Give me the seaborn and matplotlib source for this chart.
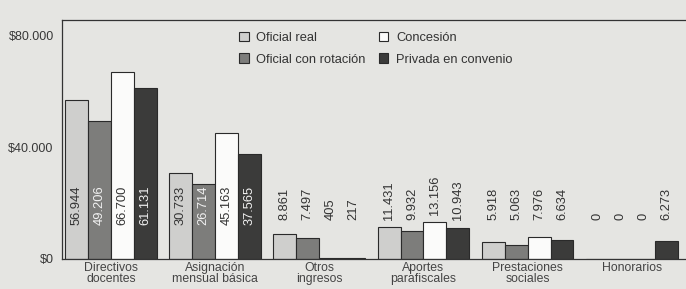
import pandas as pd
import matplotlib.pyplot as plt
import seaborn as sns

# categories and series
categories = ["Directivos\ndocentes", "Asignación\nmensual básica", "Otros\ningresos",
              "Aportes\nparafiscales", "Prestaciones\nsociales", "Honorarios"]
series = ["Oficial real", "Oficial con rotación", "Concesión", "Privada en convenio"]
oficial_real = [56944, 30733, 8861, 11431, 5918, 0]
oficial_rotacion = [49206, 26714, 7497, 9932, 5063, 0]
concesion = [66700, 45163, 405, 13156, 7976, 0]
privada = [61131, 37565, 217, 10943, 6634, 6273]
y_ticks = [0, 40000, 80000]
y_tick_labels = ["$0", "$40.000", "$80.000"]

colors = ["#cfcfcd", "#7d7d7b", "#fbfbfa", "#3b3b3a"]
text_colors = ["#333333", "#f2f2f2", "#333333", "#f2f2f2"]
bg = "#e5e5e2"

#long table for seaborn
rows = []
for name, vals in zip(series, [oficial_real, oficial_rotacion, concesion, privada]):
    for cat, v in zip(categories, vals):
        rows.append({"categoria": cat, "serie": name, "valor": v})
df = pd.DataFrame(rows)

sns.set_theme(style="white")
plt.rcParams['font.family'] = ['Liberation Sans', 'DejaVu Sans']

fig = plt.figure(figsize=(6.86, 2.89), dpi=100, facecolor=bg)
ax = fig.add_axes([0.0904, 0.104, 0.9096, 0.827], facecolor=bg)

sns.barplot(data=df, x="categoria", y="valor", hue="serie", order=categories,
            hue_order=series, palette=colors, width=0.88, gap=0,
            edgecolor="#2a2a2a", linewidth=0.8, ax=ax)

# value labels, rotated: inside the tall bars, just above the short ones
for i, cont in enumerate(ax.containers):
    for bar in cont:
        h = bar.get_height()
        inside = h > 20000
        base = 12000 if inside else max(14000, h + 2500)
        txt = f"{int(h):,}".replace(",", ".")
        ax.text(bar.get_x() + bar.get_width() / 2, base, txt, rotation=90,
                ha="center", va="bottom", fontsize=9.3,
                color=text_colors[i] if inside else "#333333")

ax.set_xlim(-0.47, 5.52)
ax.set_ylim(0, 85500)
ax.set_yticks(y_ticks)
ax.set_yticklabels(y_tick_labels, fontsize=9, color="#383838")
ax.set_xticks(range(len(categories)))
ax.set_xticklabels(categories, fontsize=8.8, color="#444444", linespacing=0.95)
ax.tick_params(axis="y", length=3, width=0.8, color="#444444", pad=3)
ax.tick_params(axis="x", length=0, pad=2)
ax.set_xlabel("")
ax.set_ylabel("")
for s in ["left", "bottom", "top"]:
    ax.spines[s].set_color("#333333")
    ax.spines[s].set_linewidth(0.9)
ax.spines["right"].set_visible(False)

leg = ax.legend(ncol=2, loc="upper left", bbox_to_anchor=(0.265, 1.0), frameon=False,
                fontsize=9.3, handlelength=0.75, handleheight=0.75, handletextpad=0.6,
                columnspacing=1.0, labelspacing=0.75)
for t in leg.get_texts():
    t.set_color("#333333")

fig.savefig("out.png", dpi=100, facecolor=bg)
